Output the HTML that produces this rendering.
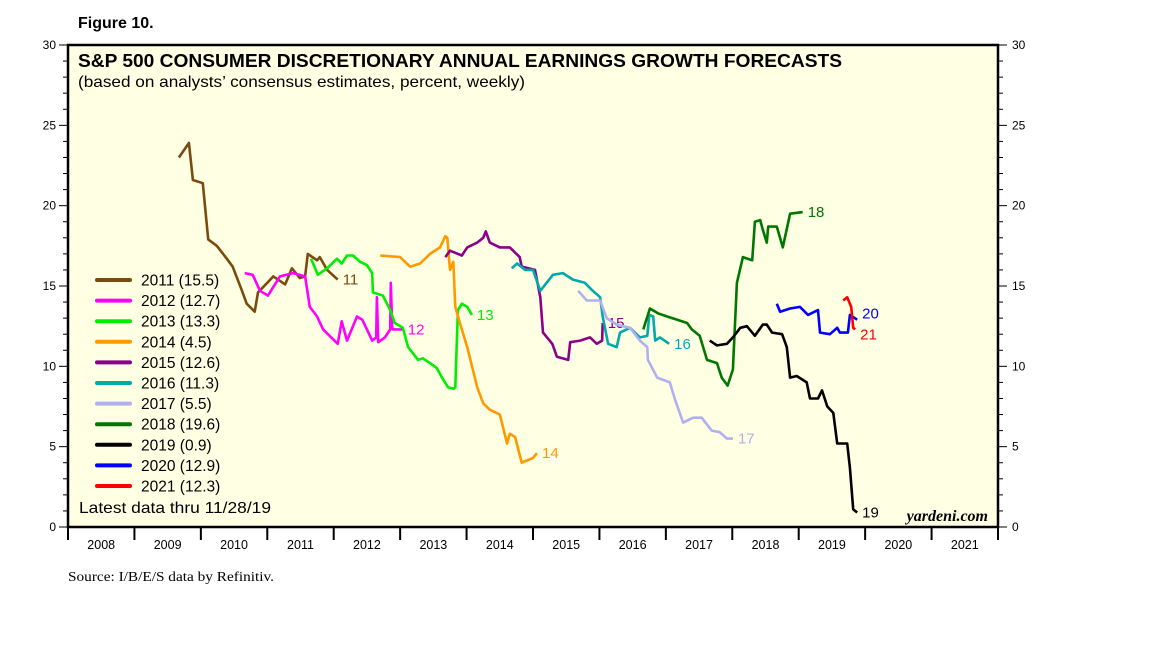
<!DOCTYPE html>
<html><head><meta charset="utf-8"><style>
body{margin:0;background:#fff;}
svg{display:block;font-family:"Liberation Sans",sans-serif;}
</style></head><body>
<svg id="chart" width="1152" height="648" viewBox="0 0 1152 648" xmlns="http://www.w3.org/2000/svg">
<rect x="68" y="45" width="930" height="482" fill="#FFFFE3"/>
<g id="grid"></g>
<g id="series"></g>
<rect x="68" y="45" width="930" height="482" fill="none" stroke="#000" stroke-width="2.5"/>
<text x="78" y="28" font-size="16" font-weight="bold">Figure 10.</text>
<text x="78" y="67" font-size="18.5" font-weight="bold" textLength="764" lengthAdjust="spacingAndGlyphs">S&amp;P 500 CONSUMER DISCRETIONARY ANNUAL EARNINGS GROWTH FORECASTS</text>
<text x="78" y="87" font-size="16" textLength="447" lengthAdjust="spacingAndGlyphs">(based on analysts’ consensus estimates, percent, weekly)</text>
<g id="legend"></g>
<text x="79" y="513" font-size="16" textLength="192" lengthAdjust="spacingAndGlyphs">Latest data thru 11/28/19</text>
<text x="988" y="521" font-size="16" font-weight="bold" font-style="italic" font-family="Liberation Serif,serif" text-anchor="end">yardeni.com</text>
<text x="68" y="581" font-size="13.5" font-family="Liberation Serif,serif" textLength="206" lengthAdjust="spacingAndGlyphs">Source: I/B/E/S data by Refinitiv.</text>
</svg>
<script>
const years=[2008,2009,2010,2011,2012,2013,2014,2015,2016,2017,2018,2019,2020,2021];
const yTicks=[0,5,10,15,20,25,30];
const seriesNames=["2011","2012","2013","2014","2015","2016","2017","2018","2019","2020","2021"];
const latestValues=["15.5","12.7","13.3","4.5","12.6","11.3","5.5","19.6","0.9","12.9","12.3"];
const endLabels=["11","12","13","14","15","16","17","18","19","20","21"];
const colors=["#7B4A0E","#FF00FF","#00EE00","#FF9900","#8B008B","#00AAAA","#B0B0F0","#007700","#000000","#0000FF","#FF0000"];
const t2011=[2009.67,2009.82,2009.88,2010.03,2010.11,2010.24,2010.39,2010.48,2010.62,2010.69,2010.81,2010.86,2011.0,2011.09,2011.27,2011.37,2011.49,2011.57,2011.61,2011.75,2011.79,2011.9,2012.06];
const v2011=[23.0,23.9,21.6,21.4,17.9,17.5,16.7,16.2,14.7,13.9,13.4,14.6,15.2,15.6,15.1,16.1,15.5,15.6,17.0,16.6,16.8,16.0,15.4];
const t2012=[2010.66,2010.78,2010.89,2011.01,2011.19,2011.39,2011.57,2011.64,2011.75,2011.84,2012.06,2012.12,2012.2,2012.35,2012.43,2012.58,2012.64,2012.65,2012.67,2012.77,2012.85,2012.86,2012.88,2012.89,2013.04];
const v2012=[15.8,15.7,14.7,14.4,15.6,15.8,15.6,13.7,13.1,12.3,11.4,12.8,11.6,13.1,12.9,11.6,11.8,14.3,11.5,11.8,12.3,15.2,12.4,12.3,12.3];
const t2013=[2011.66,2011.76,2011.9,2012.05,2012.12,2012.2,2012.29,2012.4,2012.5,2012.58,2012.59,2012.74,2012.85,2012.92,2013.04,2013.12,2013.27,2013.34,2013.45,2013.55,2013.63,2013.72,2013.8,2013.83,2013.87,2013.93,2014.01,2014.08];
const v2013=[16.7,15.7,16.1,16.7,16.4,16.9,16.9,16.5,16.3,15.8,14.6,14.4,13.5,12.7,12.4,11.2,10.4,10.5,10.2,9.9,9.3,8.7,8.6,8.7,13.5,13.9,13.7,13.2];
const t2014=[2012.7,2013.0,2013.15,2013.3,2013.45,2013.6,2013.68,2013.71,2013.75,2013.8,2013.83,2013.9,2014.01,2014.16,2014.25,2014.35,2014.5,2014.61,2014.65,2014.73,2014.83,2015.0,2015.06];
const v2014=[16.9,16.8,16.2,16.4,17.0,17.4,18.1,18.0,16.0,16.5,13.7,12.7,11.2,8.7,7.7,7.3,7.0,5.2,5.8,5.6,4.0,4.3,4.6];
const t2015=[2013.68,2013.75,2013.93,2014.01,2014.16,2014.25,2014.29,2014.35,2014.5,2014.65,2014.8,2014.83,2015.03,2015.11,2015.15,2015.29,2015.36,2015.53,2015.56,2015.71,2015.86,2015.96,2016.04,2016.05];
const v2015=[16.8,17.2,16.9,17.4,17.7,18.0,18.4,17.7,17.4,17.4,16.8,16.2,16.0,14.3,12.1,11.4,10.6,10.4,11.5,11.6,11.8,11.4,11.6,12.7];
const t2016=[2014.68,2014.76,2014.88,2015.0,2015.11,2015.3,2015.45,2015.6,2015.78,2015.9,2016.01,2016.05,2016.13,2016.26,2016.31,2016.46,2016.61,2016.72,2016.75,2016.81,2016.84,2016.91,2017.05];
const v2016=[16.1,16.4,16.0,16.0,14.7,15.7,15.8,15.4,15.2,14.7,14.3,13.1,11.4,11.2,12.1,12.4,11.8,11.9,13.2,13.1,11.6,11.8,11.4];
const t2017=[2015.68,2015.81,2016.01,2016.11,2016.26,2016.46,2016.61,2016.72,2016.73,2016.87,2017.06,2017.14,2017.26,2017.41,2017.54,2017.69,2017.81,2017.92,2018.01];
const v2017=[14.7,14.1,14.1,13.0,12.6,12.4,11.6,11.2,10.4,9.3,9.0,7.9,6.5,6.8,6.8,6.0,5.9,5.5,5.5];
const t2018=[2016.66,2016.76,2016.88,2017.02,2017.17,2017.32,2017.39,2017.51,2017.62,2017.77,2017.84,2017.93,2018.01,2018.07,2018.16,2018.3,2018.34,2018.42,2018.46,2018.52,2018.54,2018.67,2018.76,2018.87,2019.06];
const v2018=[12.3,13.6,13.3,13.1,12.9,12.7,12.3,11.9,10.4,10.2,9.3,8.8,9.8,15.2,16.8,16.6,19.0,19.1,18.5,17.7,18.7,18.7,17.4,19.5,19.6];
const t2019=[2017.66,2017.77,2017.92,2018.01,2018.12,2018.22,2018.34,2018.46,2018.52,2018.6,2018.75,2018.82,2018.87,2018.97,2019.12,2019.17,2019.29,2019.35,2019.43,2019.52,2019.58,2019.73,2019.77,2019.82,2019.88];
const v2019=[11.6,11.3,11.4,11.8,12.4,12.5,11.9,12.6,12.6,12.1,12.0,11.2,9.3,9.4,9.0,8.0,8.0,8.5,7.5,7.1,5.2,5.2,3.7,1.1,0.9];
const t2020=[2018.67,2018.72,2018.87,2019.02,2019.14,2019.29,2019.32,2019.47,2019.58,2019.62,2019.74,2019.77,2019.88];
const v2020=[13.9,13.4,13.6,13.7,13.2,13.5,12.1,12.0,12.4,12.1,12.1,13.2,12.9];
const t2021=[2019.67,2019.73,2019.79,2019.82,2019.85];
const v2021=[14.1,14.3,13.7,12.4,12.3];
const times=[t2011,t2012,t2013,t2014,t2015,t2016,t2017,t2018,t2019,t2020,t2021];
const vals=[v2011,v2012,v2013,v2014,v2015,v2016,v2017,v2018,v2019,v2020,v2021];

const NS="http://www.w3.org/2000/svg";
const X0=68,X1=998,Y0=527,Y1=45;
const xS=t=>X0+(t-2008)*(X1-X0)/14;
const yS=v=>Y0-v*(Y0-Y1)/30;
function mk(tag,attrs,parent,txt){const e=document.createElementNS(NS,tag);for(const k in attrs)e.setAttribute(k,attrs[k]);if(txt!==undefined)e.textContent=txt;parent.appendChild(e);return e;}
const grid=document.getElementById('grid');
for(let v=0;v<=30;v++){
  const len=v%5===0?9:5;
  const a=mk('line',{x1:X0-len,x2:X0,y1:yS(v),y2:yS(v),stroke:'#000','stroke-width':1},grid);
  
  
  const b=mk('line',{x1:X1,x2:X1+len,y1:yS(v),y2:yS(v),stroke:'#000','stroke-width':1},grid);
  
  
}
yTicks.forEach(v=>{
  const l=mk('text',{x:56,y:yS(v)+4,'font-size':12,'text-anchor':'end'},grid,String(v));
  
  
  const r=mk('text',{x:1012,y:yS(v)+4,'font-size':12},grid,String(v));
  
  
});
years.forEach((yr,i)=>{
  const tk=mk('line',{x1:xS(yr),x2:xS(yr),y1:Y0,y2:Y0+13,stroke:'#000','stroke-width':2},grid);
  
  
  const lb=mk('text',{x:xS(yr+0.5),y:Y0+22,'font-size':12.5,'text-anchor':'middle'},grid,String(yr));
  
  
});
const tk2=mk('line',{x1:X1,x2:X1,y1:Y0,y2:Y0+13,stroke:'#000','stroke-width':2},grid);



const sg=document.getElementById('series');
const lg=document.getElementById('legend');
seriesNames.forEach((nm,i)=>{
  const pts=times[i].map((t,j)=>xS(t).toFixed(1)+','+yS(vals[i][j]).toFixed(1)).join(' ');
  const pl=mk('polyline',{points:pts,fill:'none',stroke:colors[i],'stroke-width':2.6,'stroke-linejoin':'round'},sg);
  
  
  const n=times[i].length-1;
  let ly=yS(vals[i][n])+5;
  if(nm==="2020") ly-=6;
  if(nm==="2021") ly+=5;
  const lab=mk('text',{x:xS(times[i][n])+5,y:ly,'font-size':15,fill:colors[i]==="#000000"?"#000":colors[i]},sg,endLabels[i]);
  
  
  const yy=280+i*20.6;
  const ll=mk('line',{x1:97,x2:130,y1:yy,y2:yy,stroke:colors[i],'stroke-width':4,'stroke-linecap':'round'},lg);
  
  
  const lt=mk('text',{x:141,y:yy+5.5,'font-size':15.5},lg,nm+' ('+latestValues[i]+')');
  
  
});
</script>
</body></html>
